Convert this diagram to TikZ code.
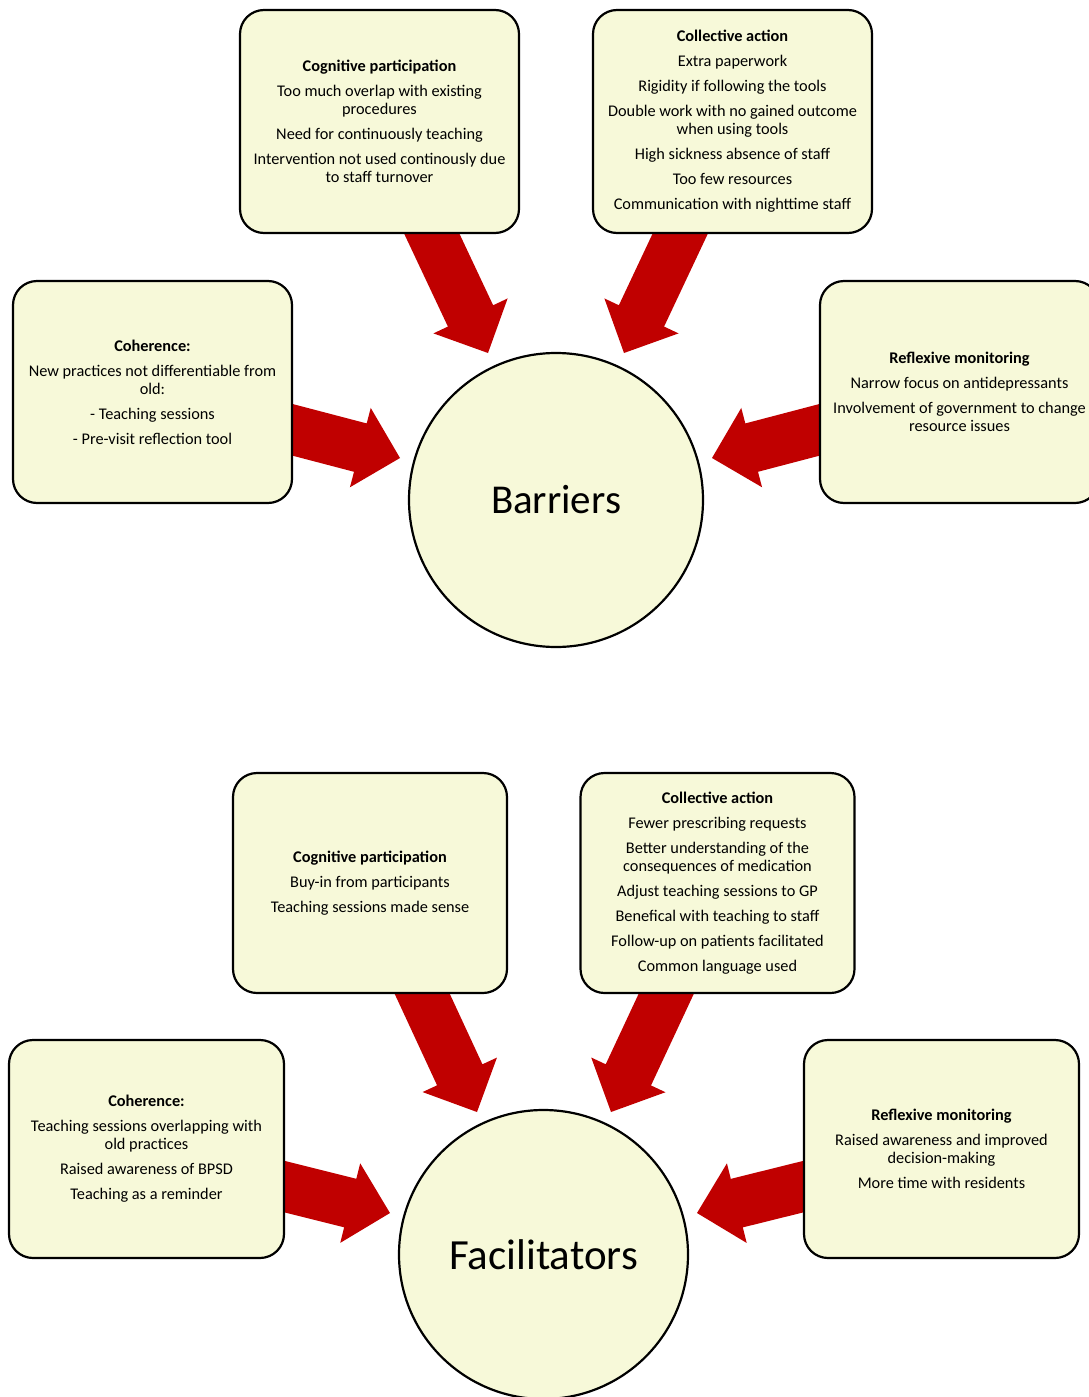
\documentclass[tikz,border=0pt]{standalone}
\usepackage{fontspec}
\setmainfont{Carlito}
\usetikzlibrary{calc,backgrounds}
\definecolor{boxfill}{RGB}{247,249,217}
\definecolor{arrowred}{RGB}{192,0,0}
\tikzset{
  factor/.style={draw,line width=2.2pt,fill=boxfill,rounded corners=24pt,align=center,
    inner sep=0pt,font=\fontsize{16.3}{18}\selectfont},
  hub/.style={draw,line width=2.2pt,fill=boxfill,circle,inner sep=0pt}
}
\newcommand{\fatarrow}[2]{%
  \coordinate (ah) at ($(#2)!41pt!(#1)$);
  \fill[arrowred] ($(#1)!25pt!90:(#2)$) -- ($(ah)!25pt!90:(#2)$) -- ($(ah)!41pt!90:(#2)$) -- (#2)
    -- ($(ah)!41pt!-90:(#2)$) -- ($(ah)!25pt!-90:(#2)$) -- ($(#1)!25pt!-90:(#2)$) -- cycle;}
\begin{document}
\begin{tikzpicture}[x=1pt,y=-1pt]
\useasboundingbox (0,0) rectangle (1089,1397);
\node[factor,minimum width=279pt,minimum height=223pt] (B1) at (379.5,121.5) {\textbf{Cognitive participation}\\[7pt]
  Too much overlap with existing\\ procedures\\[7pt] Need for continuously teaching\\[7pt]
  Intervention not used continously due\\ to staff turnover};
\node[factor,minimum width=279pt,minimum height=223pt] (B2) at (732.5,121.5) {\textbf{Collective action}\\[7pt]
  Extra paperwork\\[7pt] Rigidity if following the tools\\[7pt] Double work with no gained outcome\\ when using tools\\[7pt]
  High sickness absence of staff\\[7pt] Too few resources\\[7pt] Communication with nighttime staff};
\node[factor,minimum width=279pt,minimum height=222pt] (B3) at (152.5,392) {\textbf{Coherence:}\\[7pt]
  New practices not differentiable from\\ old:\\[7pt] - Teaching sessions\\[7pt] - Pre-visit reflection tool};
\node[factor,minimum width=279pt,minimum height=222pt] (B4) at (959.5,392) {\textbf{Reflexive monitoring}\\[7pt]
  Narrow focus on antidepressants\\[7pt] Involvement of government to change\\ resource issues};
\node[hub,minimum size=294pt,font=\fontsize{41}{49}\selectfont] (B0) at (556,500) {Barriers};
\node[factor,minimum width=274pt,minimum height=220pt] (F1) at (370,883) {\textbf{Cognitive participation}\\[7pt]
  Buy-in from participants\\[7pt] Teaching sessions made sense};
\node[factor,minimum width=274pt,minimum height=220pt] (F2) at (717.5,883) {\textbf{Collective action}\\[7pt]
  Fewer prescribing requests\\[7pt] Better understanding of the\\ consequences of medication\\[7pt]
  Adjust teaching sessions to GP\\[7pt] Benefical with teaching to staff\\[7pt]
  Follow-up on patients facilitated\\[7pt] Common language used};
\node[factor,minimum width=275pt,minimum height=218pt] (F3) at (146.5,1149) {\textbf{Coherence:}\\[7pt]
  Teaching sessions overlapping with\\ old practices\\[7pt] Raised awareness of BPSD\\[7pt] Teaching as a reminder};
\node[factor,minimum width=275pt,minimum height=218pt] (F4) at (941.5,1149) {\textbf{Reflexive monitoring}\\[7pt]
  Raised awareness and improved\\ decision-making\\[7pt] More time with residents};
\node[hub,minimum size=289pt,font=\fontsize{43}{51}\selectfont] (F0) at (543.5,1254.5) {Facilitators};
\coordinate (s1) at ($(B1.south)+(44,-18)$);
\coordinate (t1) at ($(B0)+(-68,-147)$);
\coordinate (s2) at ($(B2.south)+(-44,-18)$);
\coordinate (t2) at ($(B0)+(68,-147)$);
\coordinate (s3) at ($(B3.east)+(-19,33)$);
\coordinate (t3) at ($(B0)+(-156,-42)$);
\coordinate (s4) at ($(B4.west)+(19,33)$);
\coordinate (t4) at ($(B0)+(156,-42)$);
\coordinate (s5) at ($(F1.south)+(44,-18)$);
\coordinate (t5) at ($(F0)+(-66.5,-142.5)$);
\coordinate (s6) at ($(F2.south)+(-43,-18)$);
\coordinate (t6) at ($(F0)+(67.5,-142.5)$);
\coordinate (s7) at ($(F3.east)+(-19,33)$);
\coordinate (t7) at ($(F0)+(-153.5,-41.5)$);
\coordinate (s8) at ($(F4.west)+(19,33)$);
\coordinate (t8) at ($(F0)+(153.5,-41.5)$);
\begin{scope}[on background layer]
\fatarrow{s1}{t1}
\fatarrow{s2}{t2}
\fatarrow{s3}{t3}
\fatarrow{s4}{t4}
\fatarrow{s5}{t5}
\fatarrow{s6}{t6}
\fatarrow{s7}{t7}
\fatarrow{s8}{t8}
\end{scope}
\end{tikzpicture}
\end{document}
